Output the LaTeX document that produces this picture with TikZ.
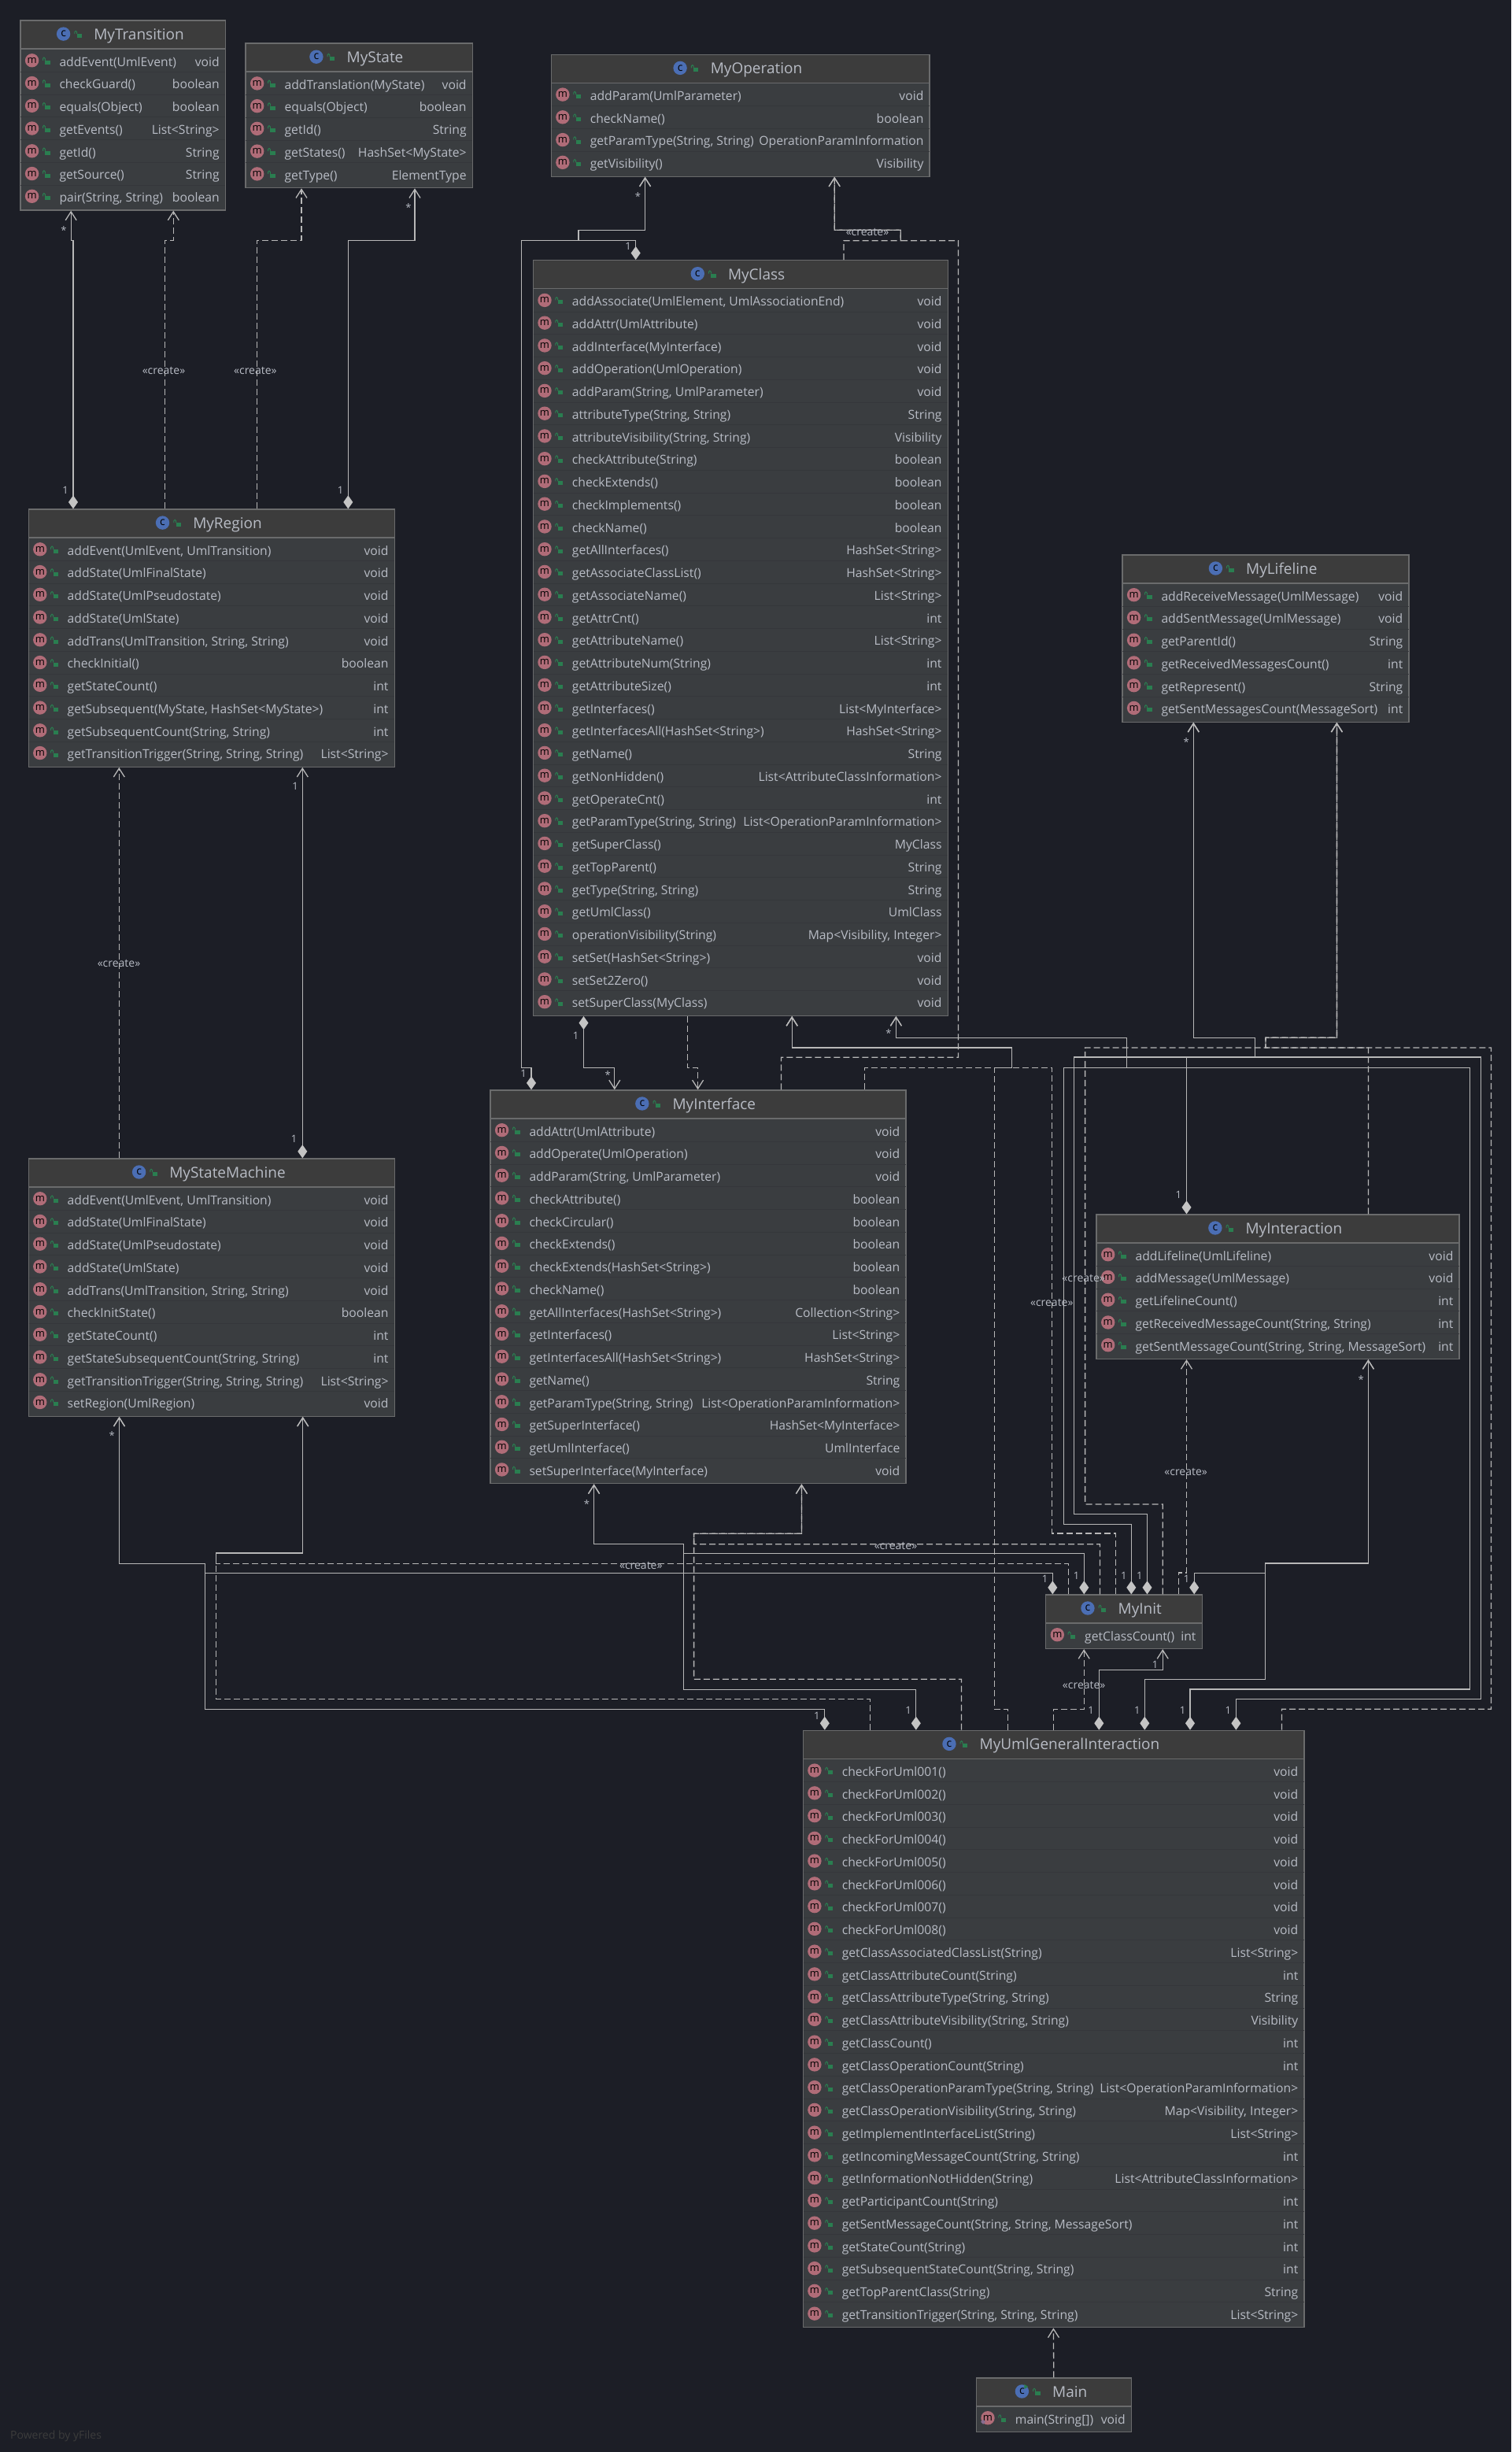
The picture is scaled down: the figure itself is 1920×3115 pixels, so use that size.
\documentclass[tikz,border=0pt]{standalone}
\usepackage{fontspec}
\setmainfont{Open Sans}
\usetikzlibrary{arrows.meta}
\definecolor{pagebg}{HTML}{1C1E26}
\definecolor{headfill}{HTML}{3C3C3C}
\definecolor{bodyfill}{HTML}{3A3D40}
\definecolor{sepline}{HTML}{35373B}
\definecolor{boxedge}{HTML}{6A6B6C}
\definecolor{rowtext}{HTML}{B8BCC5}
\definecolor{edgeline}{HTML}{B8B8B8}
\definecolor{tipfill}{HTML}{C4C4C4}
\definecolor{micolor}{HTML}{B06C78}
\definecolor{cicolor}{HTML}{4B6EB4}
\definecolor{lockgreen}{HTML}{2A7E50}
\tikzset{
  classbody/.style={rectangle, draw=boxedge, fill=bodyfill, line width=1.2pt, inner sep=0pt, anchor=north west},
  classhead/.style={rectangle, draw=boxedge, fill=headfill, line width=1.2pt, inner sep=0pt, minimum height=36pt, anchor=north west},
  classname/.style={inner sep=0pt, anchor=base, text=rowtext, font=\fontsize{19}{22}\selectfont},
  rowname/.style={inner sep=0pt, anchor=base west, text=rowtext, font=\fontsize{15.7}{18}\selectfont},
  rowtype/.style={inner sep=0pt, anchor=base east, text=rowtext, font=\fontsize{15.7}{18}\selectfont},
  micon/.style={circle, fill=micolor, inner sep=0pt, minimum size=17.4pt, text=black, font=\fontsize{13}{13}\selectfont},
  cicon/.style={circle, fill=cicolor, inner sep=0pt, minimum size=17.4pt, text=black, font=\fontsize{14}{14}\selectfont},
  rowsep/.style={draw=sepline, line width=0.6pt},
  lockpic/.pic={
    \fill[lockgreen] (-2,0) rectangle (4.2,5);
    \draw[lockgreen, line width=1pt] (-2,0) -- (-2,-2.4) arc[start angle=0, end angle=-180, radius=1.4] -- (-4.8,0);
  },
  >={Straight Barb[length=11pt, width=14pt]},
  assoc/.style={draw=edgeline, line width=1.3pt},
  comp/.style={assoc, {Diamond[length=17pt, width=12pt, fill=tipfill, color=tipfill]}->},
  dep/.style={assoc, dash pattern=on 8pt off 4pt, ->},
  stereo/.style={inner sep=0pt, text=rowtext, font=\fontsize{14}{16}\selectfont},
  mult/.style={inner sep=0pt, text=rowtext, font=\fontsize{13}{15}\selectfont},
}
\newcommand{\classbox}[7]{%
  \pgfmathsetmacro{\boxh}{39.8+28.75*#5}
  \node[classbody, minimum width=#4pt, minimum height=\boxh pt] (#1) at (#2,#3) {};
  \node[classhead, minimum width=#4pt] (#1-head) at (#1.north west) {};
  \node[classname] (#1-title) at ([shift={(#4/2+21,25)}]#1.north west) {#6};
  \node[cicon] (#1-c) at ([shift={(-38.5,-7.3)}]#1-title.base west) {c};
  \pic at ([shift={(-19.5,-7.3)}]#1-title.base west) {lockpic};
  \foreach \mname/\mtype [count=\i] in {#7} {
    \node[micon] (#1-m\i) at ([shift={(15.3,{51.4+28.75*(\i-1)})}]#1.north west) {m};
    \pic at ([shift={(34,{51.4+28.75*(\i-1)})}]#1.north west) {lockpic};
    \node[rowname] (#1-n\i) at ([shift={(50,{58.7+28.75*(\i-1)})}]#1.north west) {\mname};
    \node[rowtype] (#1-t\i) at ([shift={(-8,{58.7+28.75*(\i-1)})}]#1.north east) {\mtype};
    \ifnum\i<#5
      \draw[rowsep] ([shift={(1,{65.8+28.75*(\i-1)})}]#1.north west) -- ([shift={(-1,{65.8+28.75*(\i-1)})}]#1.north east);
    \fi
  }
}
\begin{document}
\begin{tikzpicture} [x=1pt, y=-1pt]
\fill[pagebg] (0,0) rectangle (1920,3115);
\useasboundingbox (0,0) rectangle (1920,3115);
\classbox{transition}{25.3}{25.4}{260.4}{7}{MyTransition}{addEvent(UmlEvent)/void, checkGuard()/boolean, equals(Object)/boolean, getEvents()/List<String>, getId()/String, getSource()/String, {pair(String, String)}/boolean}
\classbox{state}{311.4}{54.5}{288.2}{5}{MyState}{addTranslation(MyState)/void, equals(Object)/boolean, getId()/String, getStates()/HashSet<MyState>, getType()/ElementType}
\classbox{operation}{699.6}{68.7}{480.8}{4}{MyOperation}{addParam(UmlParameter)/void, checkName()/boolean, {getParamType(String, String)}/OperationParamInformation, getVisibility()/Visibility}
\classbox{myclass}{676.7}{330}{526.8}{32}{MyClass}{{addAssociate(UmlElement, UmlAssociationEnd)}/void, addAttr(UmlAttribute)/void, addInterface(MyInterface)/void, addOperation(UmlOperation)/void, {addParam(String, UmlParameter)}/void, {attributeType(String, String)}/String, {attributeVisibility(String, String)}/Visibility, checkAttribute(String)/boolean, checkExtends()/boolean, checkImplements()/boolean, checkName()/boolean, getAllInterfaces()/HashSet<String>, getAssociateClassList()/HashSet<String>, getAssociateName()/List<String>, getAttrCnt()/int, getAttributeName()/List<String>, getAttributeNum(String)/int, getAttributeSize()/int, getInterfaces()/List<MyInterface>, getInterfacesAll(HashSet<String>)/HashSet<String>, getName()/String, getNonHidden()/List<AttributeClassInformation>, getOperateCnt()/int, {getParamType(String, String)}/List<OperationParamInformation>, getSuperClass()/MyClass, getTopParent()/String, {getType(String, String)}/String, getUmlClass()/UmlClass, operationVisibility(String)/{Map<Visibility, Integer>}, setSet(HashSet<String>)/void, setSet2Zero()/void, setSuperClass(MyClass)/void}
\classbox{region}{35.5}{646.4}{465}{10}{MyRegion}{{addEvent(UmlEvent, UmlTransition)}/void, addState(UmlFinalState)/void, addState(UmlPseudostate)/void, addState(UmlState)/void, {addTrans(UmlTransition, String, String)}/void, checkInitial()/boolean, getStateCount()/int, {getSubsequent(MyState, HashSet<MyState>)}/int, {getSubsequentCount(String, String)}/int, {getTransitionTrigger(String, String, String)}/List<String>}
\classbox{lifeline}{1425.3}{704.3}{364}{6}{MyLifeline}{addReceiveMessage(UmlMessage)/void, addSentMessage(UmlMessage)/void, getParentId()/String, getReceivedMessagesCount()/int, getRepresent()/String, getSentMessagesCount(MessageSort)/int}
\classbox{iface}{622.3}{1384.3}{528}{16}{MyInterface}{addAttr(UmlAttribute)/void, addOperate(UmlOperation)/void, {addParam(String, UmlParameter)}/void, checkAttribute()/boolean, checkCircular()/boolean, checkExtends()/boolean, checkExtends(HashSet<String>)/boolean, checkName()/boolean, getAllInterfaces(HashSet<String>)/Collection<String>, getInterfaces()/List<String>, getInterfacesAll(HashSet<String>)/HashSet<String>, getName()/String, {getParamType(String, String)}/List<OperationParamInformation>, getSuperInterface()/HashSet<MyInterface>, getUmlInterface()/UmlInterface, setSuperInterface(MyInterface)/void}
\classbox{machine}{35.5}{1471.3}{465}{10}{MyStateMachine}{{addEvent(UmlEvent, UmlTransition)}/void, addState(UmlFinalState)/void, addState(UmlPseudostate)/void, addState(UmlState)/void, {addTrans(UmlTransition, String, String)}/void, checkInitState()/boolean, getStateCount()/int, {getStateSubsequentCount(String, String)}/int, {getTransitionTrigger(String, String, String)}/List<String>, setRegion(UmlRegion)/void}
\classbox{interaction}{1392.4}{1542.3}{461}{5}{MyInteraction}{addLifeline(UmlLifeline)/void, addMessage(UmlMessage)/void, getLifelineCount()/int, {getReceivedMessageCount(String, String)}/int, {getSentMessageCount(String, String, MessageSort)}/int}
\classbox{init}{1328}{2025.3}{198.5}{1}{MyInit}{getClassCount()/int}
\classbox{uml}{1019.6}{2197.7}{636.7}{25}{MyUmlGeneralInteraction}{checkForUml001()/void, checkForUml002()/void, checkForUml003()/void, checkForUml004()/void, checkForUml005()/void, checkForUml006()/void, checkForUml007()/void, checkForUml008()/void, getClassAssociatedClassList(String)/List<String>, getClassAttributeCount(String)/int, {getClassAttributeType(String, String)}/String, {getClassAttributeVisibility(String, String)}/Visibility, getClassCount()/int, getClassOperationCount(String)/int, {getClassOperationParamType(String, String)}/List<OperationParamInformation>, {getClassOperationVisibility(String, String)}/{Map<Visibility, Integer>}, getImplementInterfaceList(String)/List<String>, {getIncomingMessageCount(String, String)}/int, getInformationNotHidden(String)/List<AttributeClassInformation>, getParticipantCount(String)/int, {getSentMessageCount(String, String, MessageSort)}/int, getStateCount(String)/int, {getSubsequentStateCount(String, String)}/int, getTopParentClass(String)/String, {getTransitionTrigger(String, String, String)}/List<String>}
\classbox{main}{1239.7}{3020.3}{197}{1}{Main}{main(String[])/void}
\fill[lockgreen] (main-c.center) ++(3,-9) -- ++(5,3) -- ++(-5,3) -- cycle;
\fill[micolor!60!cicolor] (main-m1.center) ++(-6,2) -- ++(3,3) -- ++(-3,3) -- ++(-3,-3) -- cycle;
\draw[comp] ([xshift=57.5]region.north west) |- (90.2,305.4) -- ([xshift=64.9]transition.south west);
\draw[dep] ([xshift=173.8]region.north west) |- (220.3,305.4) -- ([xshift=195]transition.south west);
\draw[dep] ([xshift=290.9]region.north west) |- (383,305.4) -- ([xshift=71.6]state.south west);
\draw[comp] ([xshift=406.8]region.north west) |- (527,305.4) -- ([xshift=215.6]state.south west);
\draw[comp] ([xshift=52.7]iface.north west) |- (662.5,1356.3) |- (735,305.7) |- (819.6,292.3) -- ([xshift=120]operation.south west);
\draw[comp] ([xshift=131]myclass.north west) |- (735,305.7) |- (819.6,292.3) -- ([xshift=120]operation.south west);
\draw[dep] ([xshift=395.3]myclass.north west) |- (1144.3,305.7) |- (1060.2,292.3) -- ([xshift=360.6]operation.south west);
\draw[dep] ([xshift=370.1]iface.north west) |- (1217.4,1343.3) |- (1144.3,305.7) |- (1060.2,292.3) -- ([xshift=360.6]operation.south west);
\draw[comp] ([xshift=64.8]myclass.south west) |- (780.8,1356.3) -- ([xshift=158.5]iface.north west);
\draw[dep] ([xshift=196.9]myclass.south west) |- (886.6,1356.3) -- ([xshift=264.3]iface.north west);
\draw[dep] ([xshift=476.3]iface.north west) |- (1285.2,1356.3) |- (1006.2,1331) -- ([xshift=329.5]myclass.south west);
\draw[dep] ([xshift=89.6]init.north west) |- (1336.8,1948) |- (1285.2,1356.3) |- (1006.2,1331) -- ([xshift=329.5]myclass.south west);
\draw[dep] ([xshift=260.7]uml.north west) |- (1263.3,2171.3) |- (1285.2,1356.3) |- (1006.2,1331) -- ([xshift=329.5]myclass.south west);
\draw[comp] ([xshift=109.3]init.north west) |- (1351.5,1936.3) |- (1431.4,1356.3) |- (1138.4,1318.7) -- ([xshift=461.7]myclass.south west);
\draw[comp] ([xshift=492.4]uml.north west) |- (1867.4,2146) |- (1431.4,1356.3) |- (1138.4,1318.7) -- ([xshift=461.7]myclass.south west);
\draw[comp] ([xshift=115.1]interaction.north west) |- (1594.3,1343) |- (1516.3,1318.3) -- ([xshift=91]lifeline.south west);
\draw[comp] ([xshift=129.5]init.north west) |- (1364.3,1923.3) |- (1594.3,1343) |- (1516.3,1318.3) -- ([xshift=91]lifeline.south west);
\draw[comp] ([xshift=550.8]uml.north west) |- (1881.2,2158.3) |- (1594.3,1343) |- (1516.3,1318.3) -- ([xshift=91]lifeline.south west);
\draw[dep] ([xshift=346]interaction.north west) |- (1608,1331) |- (1698.4,1318.3) -- ([xshift=273.1]lifeline.south west);
\draw[dep] ([xshift=149.2]init.north west) |- (1378.6,1911) |- (1608,1331) |- (1698.4,1318.3) -- ([xshift=273.1]lifeline.south west);
\draw[dep] ([xshift=608.8]uml.north west) |- (1894.5,2171.3) |- (1608,1331) |- (1698.4,1318.3) -- ([xshift=273.1]lifeline.south west);
\draw[dep] ([xshift=169.5]init.north west) |- (1507.5,1998) -- ([xshift=115.1]interaction.south west);
\draw[comp] ([xshift=189.2]init.north west) |- (1607.2,1998.3) |- (1738.4,1986) -- ([xshift=346]interaction.south west);
\draw[comp] ([xshift=434.7]uml.north west) |- (1607.2,2133.3) |- (1738.4,1986) -- ([xshift=346]interaction.south west);
\draw[dep] ([xshift=318.8]uml.north west) |- (1377.2,2171.3) -- ([xshift=49.2]init.south west);
\draw[comp] ([xshift=376.7]uml.north west) |- (1477.2,2121.3) -- ([xshift=149.2]init.south west);
\draw[comp] ([xshift=49.3]init.north west) |- (868.4,1973.3) |- (754.6,1961.3) -- ([xshift=132.3]iface.south west);
\draw[comp] ([xshift=144.2]uml.north west) |- (868.4,2146.3) |- (754.6,1961.3) -- ([xshift=132.3]iface.south west);
\draw[dep] ([xshift=69.4]init.north west) |- (881.6,1961.7) |- (1018.4,1948.3) -- ([xshift=396.1]iface.south west);
\draw[dep] ([xshift=201.8]uml.north west) |- (881.6,2133.3) |- (1018.4,1948.3) -- ([xshift=396.1]iface.south west);
\draw[comp] ([xshift=9.3]init.north west) |- (260.7,1998.3) |- (151.5,1986.3) -- ([xshift=116]machine.south west);
\draw[comp] ([xshift=28.2]uml.north west) |- (260.7,2171.5) |- (151.5,1986.3) -- ([xshift=116]machine.south west);
\draw[dep] ([xshift=29.4]init.north west) |- (274.5,1986.3) |- (384.7,1973) -- ([xshift=349.2]machine.south west);
\draw[dep] ([xshift=85.9]uml.north west) |- (274.5,2158.3) |- (384.7,1973) -- ([xshift=349.2]machine.south west);
\draw[dep] ([xshift=115.8]machine.north west) -- ([xshift=115.8]region.south west);
\draw[comp] ([xshift=348.8]machine.north west) -- ([xshift=348.8]region.south west);
\draw[dep] (main.north) -- ([xshift=318.8]uml.south west);
\node[stereo] (createA) at (208,471) {«create»};
\node[stereo] (createB) at (324.4,471) {«create»};
\node[stereo] (createC) at (1102,295) {«create»};
\node[stereo] (createD) at (1376.7,1624) {«create»};
\node[stereo] (createE) at (1336.3,1655.3) {«create»};
\node[stereo] (createF) at (1506.6,1870) {«create»};
\node[stereo] (createG) at (1377.2,2141) {«create»};
\node[stereo] (createH) at (1138,1964.3) {«create»};
\node[stereo] (createI) at (814.3,1989.3) {«create»};
\node[stereo] (createJ) at (151,1224) {«create»};
\node[mult] (oneA) at (83,622.7) {1};
\node[mult] (oneB) at (432.5,622.7) {1};
\node[mult] (oneC) at (665,1364) {1};
\node[mult] (oneD) at (798,312.7) {1};
\node[mult] (oneE) at (731.7,1316) {1};
\node[mult] (oneF) at (375,999.3) {1};
\node[mult] (oneG) at (373.6,1447) {1};
\node[mult] (oneH) at (1497.4,1517.7) {1};
\node[mult] (oneI) at (1327.6,2006) {1};
\node[mult] (oneJ) at (1367.5,2001.7) {1};
\node[mult] (oneK) at (1427.7,2001.7) {1};
\node[mult] (oneL) at (1447.9,2001.7) {1};
\node[mult] (oneM) at (1507.5,2006) {1};
\node[mult] (oneN) at (1467.6,2115) {1};
\node[mult] (oneO) at (1386,2173.3) {1};
\node[mult] (oneP) at (1444.7,2173.3) {1};
\node[mult] (oneQ) at (1502.5,2173.3) {1};
\node[mult] (oneR) at (1560.4,2173.3) {1};
\node[mult] (oneS) at (1154,2173) {1};
\node[mult] (oneT) at (1037.8,2180) {1};
\node[mult] (starA) at (81,293) {*};
\node[mult] (starB) at (519,264) {*};
\node[mult] (starC) at (810.5,250) {*};
\node[mult] (starD) at (772.3,1365.7) {*};
\node[mult] (starE) at (1129,1312.3) {*};
\node[mult] (starF) at (1507.3,943) {*};
\node[mult] (starG) at (1729.3,1752.3) {*};
\node[mult] (starH) at (745.4,1910.3) {*};
\node[mult] (starI) at (142.3,1823.7) {*};
\node[anchor=west, inner sep=0pt, text=headfill, font=\fontsize{14}{16}\selectfont] (credit) at (13,3095) {Powered by yFiles};
\end{tikzpicture}
\end{document}
